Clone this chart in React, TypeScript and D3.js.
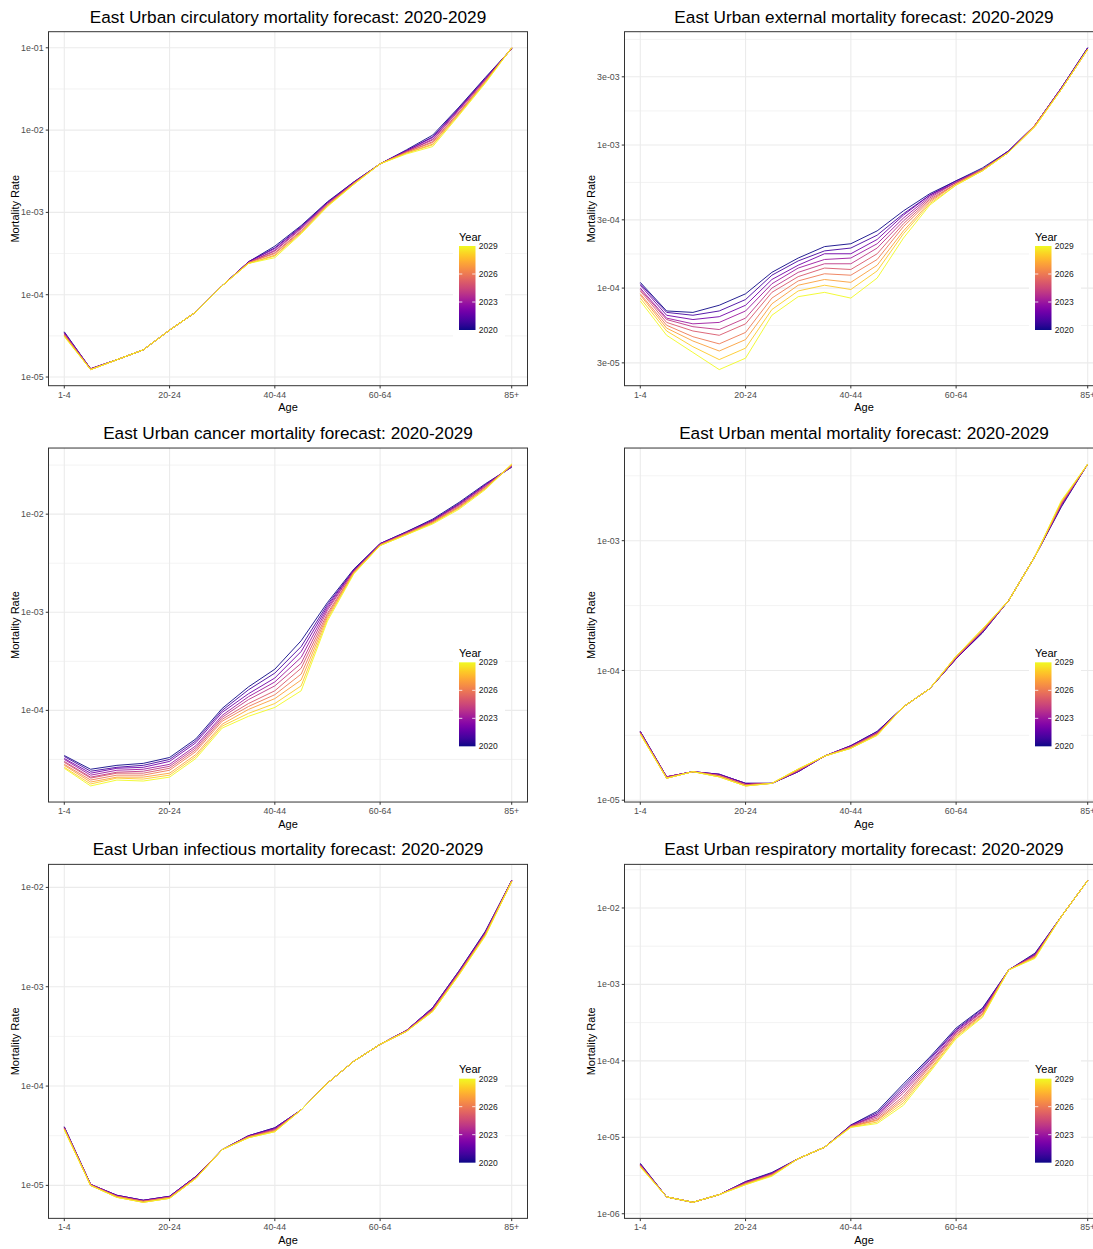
import React from "react";
import * as d3 from "d3";

const ageGroups = ["1-4", "5-9", "10-14", "15-19", "20-24", "25-29", "30-34", "35-39", "40-44",
  "45-49", "50-54", "55-59", "60-64", "65-69", "70-74", "75-79", "80-84", "85+"];
const ageBreaks = ["1-4", "20-24", "40-44", "60-64", "85+"];
const years = [2020, 2021, 2022, 2023, 2024, 2025, 2026, 2027, 2028, 2029];
const legendYears = [2020, 2023, 2026, 2029];

// log10 of the mortality rate: one row per forecast year (2020..2029), one value per age group
const circulatory = [
  [-4.45, -4.90, -4.79, -4.67, -4.43, -4.21, -3.89, -3.60, -3.41, -3.16, -2.87, -2.63, -2.41, -2.24, -2.06, -1.72, -1.36, -1.01],
  [-4.46, -4.90, -4.79, -4.67, -4.43, -4.21, -3.89, -3.60, -3.43, -3.17, -2.88, -2.63, -2.41, -2.25, -2.08, -1.73, -1.37, -1.01],
  [-4.46, -4.90, -4.79, -4.67, -4.43, -4.21, -3.89, -3.60, -3.44, -3.18, -2.88, -2.64, -2.41, -2.25, -2.09, -1.74, -1.38, -1.01],
  [-4.47, -4.90, -4.79, -4.67, -4.43, -4.21, -3.89, -3.61, -3.46, -3.19, -2.89, -2.64, -2.41, -2.26, -2.11, -1.75, -1.38, -1.01],
  [-4.48, -4.90, -4.79, -4.67, -4.43, -4.21, -3.89, -3.61, -3.47, -3.20, -2.90, -2.64, -2.41, -2.26, -2.12, -1.76, -1.39, -1.01],
  [-4.48, -4.91, -4.79, -4.67, -4.43, -4.21, -3.89, -3.61, -3.49, -3.22, -2.90, -2.65, -2.41, -2.27, -2.14, -1.78, -1.40, -1.00],
  [-4.49, -4.91, -4.79, -4.67, -4.43, -4.21, -3.89, -3.61, -3.50, -3.23, -2.91, -2.65, -2.41, -2.27, -2.15, -1.79, -1.41, -1.00],
  [-4.50, -4.91, -4.79, -4.67, -4.43, -4.21, -3.89, -3.62, -3.52, -3.24, -2.92, -2.65, -2.41, -2.28, -2.17, -1.80, -1.41, -1.00],
  [-4.50, -4.91, -4.79, -4.67, -4.43, -4.21, -3.89, -3.62, -3.53, -3.25, -2.92, -2.66, -2.41, -2.28, -2.18, -1.81, -1.42, -1.00],
  [-4.51, -4.91, -4.79, -4.67, -4.43, -4.21, -3.89, -3.62, -3.55, -3.26, -2.93, -2.66, -2.41, -2.29, -2.20, -1.82, -1.43, -1.00],
];

const external = [
  [-3.96, -4.16, -4.17, -4.12, -4.04, -3.89, -3.79, -3.71, -3.69, -3.60, -3.46, -3.34, -3.25, -3.16, -3.04, -2.86, -2.60, -2.32],
  [-3.97, -4.17, -4.19, -4.16, -4.08, -3.91, -3.81, -3.74, -3.72, -3.63, -3.48, -3.35, -3.25, -3.17, -3.04, -2.86, -2.60, -2.32],
  [-3.98, -4.19, -4.22, -4.20, -4.12, -3.94, -3.84, -3.76, -3.76, -3.66, -3.49, -3.35, -3.26, -3.17, -3.04, -2.86, -2.60, -2.32],
  [-4.00, -4.21, -4.25, -4.24, -4.16, -3.97, -3.86, -3.80, -3.79, -3.69, -3.51, -3.36, -3.26, -3.17, -3.05, -2.86, -2.60, -2.33],
  [-4.01, -4.22, -4.27, -4.29, -4.21, -4.00, -3.89, -3.83, -3.83, -3.72, -3.53, -3.37, -3.26, -3.17, -3.05, -2.86, -2.61, -2.33],
  [-4.02, -4.24, -4.30, -4.33, -4.25, -4.03, -3.92, -3.86, -3.87, -3.76, -3.55, -3.38, -3.27, -3.17, -3.05, -2.86, -2.61, -2.33],
  [-4.04, -4.26, -4.34, -4.39, -4.31, -4.07, -3.95, -3.90, -3.91, -3.80, -3.57, -3.39, -3.27, -3.17, -3.05, -2.86, -2.61, -2.33],
  [-4.05, -4.28, -4.37, -4.44, -4.36, -4.11, -3.98, -3.94, -3.96, -3.84, -3.60, -3.40, -3.27, -3.18, -3.05, -2.87, -2.61, -2.33],
  [-4.07, -4.30, -4.41, -4.50, -4.42, -4.15, -4.02, -3.98, -4.01, -3.88, -3.62, -3.41, -3.28, -3.18, -3.05, -2.87, -2.61, -2.33],
  [-4.09, -4.33, -4.45, -4.57, -4.49, -4.19, -4.06, -4.03, -4.07, -3.93, -3.65, -3.42, -3.28, -3.18, -3.05, -2.87, -2.61, -2.33],
];

const cancer = [
  [-4.46, -4.60, -4.56, -4.54, -4.48, -4.29, -3.98, -3.76, -3.58, -3.29, -2.90, -2.56, -2.30, -2.18, -2.05, -1.88, -1.69, -1.52],
  [-4.47, -4.62, -4.58, -4.56, -4.50, -4.31, -4.00, -3.79, -3.62, -3.35, -2.92, -2.57, -2.30, -2.18, -2.06, -1.89, -1.70, -1.52],
  [-4.49, -4.64, -4.59, -4.58, -4.52, -4.33, -4.02, -3.83, -3.67, -3.40, -2.94, -2.57, -2.30, -2.19, -2.06, -1.90, -1.70, -1.51],
  [-4.50, -4.66, -4.61, -4.60, -4.55, -4.36, -4.05, -3.86, -3.71, -3.46, -2.96, -2.58, -2.31, -2.19, -2.07, -1.90, -1.71, -1.51],
  [-4.52, -4.68, -4.63, -4.62, -4.57, -4.38, -4.07, -3.89, -3.75, -3.52, -2.98, -2.58, -2.31, -2.19, -2.07, -1.91, -1.72, -1.51],
  [-4.53, -4.69, -4.64, -4.64, -4.59, -4.40, -4.09, -3.93, -3.80, -3.57, -3.01, -2.59, -2.31, -2.20, -2.08, -1.92, -1.72, -1.50],
  [-4.55, -4.71, -4.66, -4.66, -4.61, -4.42, -4.11, -3.96, -3.84, -3.63, -3.03, -2.59, -2.31, -2.20, -2.08, -1.93, -1.73, -1.50],
  [-4.56, -4.73, -4.68, -4.68, -4.64, -4.45, -4.14, -3.99, -3.88, -3.69, -3.05, -2.60, -2.32, -2.20, -2.09, -1.93, -1.74, -1.50],
  [-4.58, -4.75, -4.69, -4.70, -4.66, -4.47, -4.16, -4.03, -3.93, -3.75, -3.07, -2.60, -2.32, -2.21, -2.09, -1.94, -1.74, -1.49],
  [-4.59, -4.77, -4.71, -4.72, -4.68, -4.49, -4.18, -4.06, -3.97, -3.80, -3.09, -2.61, -2.32, -2.21, -2.10, -1.95, -1.75, -1.49],
];

const mental = [
  [-4.47, -4.82, -4.78, -4.80, -4.87, -4.87, -4.78, -4.66, -4.58, -4.47, -4.28, -4.14, -3.91, -3.71, -3.46, -3.12, -2.74, -2.41],
  [-4.47, -4.82, -4.78, -4.80, -4.87, -4.87, -4.78, -4.66, -4.58, -4.47, -4.28, -4.14, -3.91, -3.71, -3.46, -3.12, -2.73, -2.41],
  [-4.47, -4.82, -4.78, -4.80, -4.87, -4.87, -4.78, -4.66, -4.58, -4.48, -4.28, -4.14, -3.91, -3.70, -3.46, -3.12, -2.73, -2.41],
  [-4.48, -4.82, -4.78, -4.81, -4.88, -4.87, -4.77, -4.66, -4.59, -4.48, -4.28, -4.14, -3.90, -3.70, -3.46, -3.12, -2.72, -2.41],
  [-4.48, -4.82, -4.78, -4.81, -4.88, -4.87, -4.77, -4.66, -4.59, -4.48, -4.28, -4.14, -3.90, -3.70, -3.46, -3.12, -2.72, -2.41],
  [-4.48, -4.83, -4.78, -4.81, -4.88, -4.87, -4.77, -4.66, -4.59, -4.49, -4.28, -4.14, -3.90, -3.69, -3.46, -3.12, -2.71, -2.41],
  [-4.48, -4.83, -4.78, -4.81, -4.88, -4.87, -4.77, -4.66, -4.59, -4.49, -4.28, -4.14, -3.90, -3.69, -3.46, -3.12, -2.71, -2.41],
  [-4.49, -4.83, -4.78, -4.82, -4.89, -4.87, -4.76, -4.66, -4.60, -4.49, -4.28, -4.14, -3.89, -3.69, -3.46, -3.12, -2.70, -2.41],
  [-4.49, -4.83, -4.78, -4.82, -4.89, -4.87, -4.76, -4.66, -4.60, -4.50, -4.28, -4.14, -3.89, -3.68, -3.46, -3.12, -2.70, -2.41],
  [-4.49, -4.83, -4.78, -4.82, -4.89, -4.87, -4.76, -4.66, -4.60, -4.50, -4.28, -4.14, -3.89, -3.68, -3.46, -3.12, -2.69, -2.41],
];

const infectious = [
  [-4.41, -4.99, -5.10, -5.15, -5.11, -4.91, -4.64, -4.50, -4.42, -4.24, -3.97, -3.75, -3.58, -3.44, -3.21, -2.84, -2.44, -1.93],
  [-4.41, -4.99, -5.10, -5.15, -5.11, -4.91, -4.64, -4.50, -4.42, -4.24, -3.97, -3.75, -3.58, -3.44, -3.21, -2.84, -2.45, -1.93],
  [-4.42, -4.99, -5.10, -5.15, -5.11, -4.91, -4.64, -4.50, -4.43, -4.24, -3.97, -3.75, -3.58, -3.44, -3.22, -2.85, -2.45, -1.93],
  [-4.42, -4.99, -5.11, -5.16, -5.12, -4.92, -4.64, -4.51, -4.43, -4.24, -3.97, -3.75, -3.58, -3.44, -3.22, -2.85, -2.46, -1.93],
  [-4.42, -4.99, -5.11, -5.16, -5.12, -4.92, -4.64, -4.51, -4.44, -4.24, -3.97, -3.75, -3.58, -3.44, -3.23, -2.86, -2.46, -1.93],
  [-4.43, -5.00, -5.11, -5.16, -5.12, -4.92, -4.64, -4.51, -4.44, -4.24, -3.97, -3.75, -3.58, -3.45, -3.23, -2.86, -2.47, -1.94],
  [-4.43, -5.00, -5.11, -5.16, -5.12, -4.92, -4.64, -4.51, -4.45, -4.24, -3.97, -3.75, -3.58, -3.45, -3.24, -2.87, -2.47, -1.94],
  [-4.43, -5.00, -5.12, -5.17, -5.13, -4.93, -4.64, -4.52, -4.45, -4.24, -3.97, -3.75, -3.58, -3.45, -3.24, -2.87, -2.48, -1.94],
  [-4.44, -5.00, -5.12, -5.17, -5.13, -4.93, -4.64, -4.52, -4.46, -4.24, -3.97, -3.75, -3.58, -3.45, -3.25, -2.88, -2.48, -1.94],
  [-4.44, -5.00, -5.12, -5.17, -5.13, -4.93, -4.64, -4.52, -4.46, -4.24, -3.97, -3.75, -3.58, -3.45, -3.25, -2.88, -2.49, -1.94],
];

const respiratory = [
  [-5.34, -5.78, -5.85, -5.75, -5.58, -5.46, -5.28, -5.13, -4.84, -4.66, -4.30, -3.95, -3.57, -3.31, -2.81, -2.59, -2.11, -1.64],
  [-5.35, -5.78, -5.85, -5.75, -5.58, -5.47, -5.28, -5.13, -4.84, -4.68, -4.33, -3.97, -3.59, -3.32, -2.81, -2.60, -2.11, -1.64],
  [-5.35, -5.78, -5.85, -5.75, -5.59, -5.47, -5.28, -5.13, -4.85, -4.70, -4.36, -3.99, -3.60, -3.34, -2.81, -2.61, -2.11, -1.64],
  [-5.36, -5.78, -5.85, -5.75, -5.59, -5.48, -5.28, -5.13, -4.85, -4.71, -4.39, -4.02, -3.62, -3.35, -2.81, -2.61, -2.11, -1.64],
  [-5.36, -5.78, -5.85, -5.75, -5.60, -5.48, -5.28, -5.13, -4.85, -4.73, -4.42, -4.04, -3.63, -3.36, -2.81, -2.62, -2.11, -1.64],
  [-5.37, -5.78, -5.85, -5.75, -5.60, -5.49, -5.28, -5.13, -4.86, -4.75, -4.46, -4.06, -3.65, -3.38, -2.81, -2.63, -2.11, -1.64],
  [-5.37, -5.78, -5.85, -5.75, -5.61, -5.49, -5.28, -5.13, -4.86, -4.77, -4.49, -4.08, -3.66, -3.39, -2.81, -2.64, -2.11, -1.64],
  [-5.38, -5.78, -5.85, -5.75, -5.61, -5.50, -5.28, -5.13, -4.86, -4.78, -4.52, -4.11, -3.68, -3.40, -2.81, -2.64, -2.11, -1.64],
  [-5.38, -5.78, -5.85, -5.75, -5.62, -5.50, -5.28, -5.13, -4.87, -4.80, -4.55, -4.13, -3.69, -3.42, -2.81, -2.65, -2.11, -1.64],
  [-5.39, -5.78, -5.85, -5.75, -5.62, -5.51, -5.28, -5.13, -4.87, -4.82, -4.58, -4.15, -3.71, -3.43, -2.81, -2.66, -2.11, -1.64],
];

const circulatoryTicks = ["1e-05", "1e-04", "1e-03", "1e-02", "1e-01"];
const externalTicks = ["3e-05", "1e-04", "3e-04", "1e-03", "3e-03"];
const cancerTicks = ["1e-04", "1e-03", "1e-02"];
const mentalTicks = ["1e-05", "1e-04", "1e-03"];
const infectiousTicks = ["1e-05", "1e-04", "1e-03", "1e-02"];
const respiratoryTicks = ["1e-06", "1e-05", "1e-04", "1e-03", "1e-02"];

const panels = [
  { cause: "circulatory", rows: circulatory, ticks: circulatoryTicks },
  { cause: "external", rows: external, ticks: externalTicks },
  { cause: "cancer", rows: cancer, ticks: cancerTicks },
  { cause: "mental", rows: mental, ticks: mentalTicks },
  { cause: "infectious", rows: infectious, ticks: infectiousTicks },
  { cause: "respiratory", rows: respiratory, ticks: respiratoryTicks },
];

function drawChart(svgRef: React.RefObject<SVGSVGElement>) {
  const W = 1093;
  const H = 1249;
  const cellW = 576;
  const cellH = H / 3;
  const font = "'Liberation Sans', Arial, sans-serif";

  const svg = d3.select(svgRef.current);
  svg.selectAll("*").remove();
  svg.attr("width", W).attr("height", H).style("font-family", font);

  svg.append("rect").attr("width", W).attr("height", H).attr("fill", "white");

  const color = d3.scaleSequential(d3.interpolatePlasma).domain([2020, 2029]);

  const grad = svg.append("defs").append("linearGradient")
    .attr("id", "plasmaBar")
    .attr("x1", 0).attr("x2", 0).attr("y1", 1).attr("y2", 0);
  d3.range(0, 1.0001, 0.05).forEach(t => {
    grad.append("stop").attr("offset", t).attr("stop-color", d3.interpolatePlasma(t));
  });

  panels.forEach((p, idx) => {
    const g = svg.append("g")
      .attr("transform", `translate(${(idx % 2) * cellW},${Math.floor(idx / 2) * cellH})`);

    const left = 48.5, top = 31.7, pw = 479, ph = 354;
    const bottom = top + ph;

    const x = d3.scalePoint<string>().domain(ageGroups).range([left, left + pw]).padding(0.6);

    const all = p.rows.flat();
    const lo = d3.min(all) as number;
    const hi = d3.max(all) as number;
    const pad = (hi - lo) * 0.05;
    const y = d3.scaleLog().domain([10 ** (lo - pad), 10 ** (hi + pad)]).range([bottom, top]);

    // minor breaks halfway between the major ones (in log space), ggplot style
    const lb = p.ticks.map(t => Math.log10(Number(t)));
    const bd = lb[1] - lb[0];
    const ext = [lb[0] - bd, ...lb, lb[lb.length - 1] + bd];
    const minors = d3.pairs(ext).map(([a, b]) => (a + b) / 2)
      .filter(v => v > lo - pad && v < hi + pad);

    // grid
    g.append("g").selectAll("line").data(minors).join("line")
      .attr("x1", left).attr("x2", left + pw)
      .attr("y1", d => y(10 ** d)).attr("y2", d => y(10 ** d))
      .attr("stroke", "#EBEBEB").attr("stroke-width", 0.6);
    g.append("g").selectAll("line").data(p.ticks).join("line")
      .attr("x1", left).attr("x2", left + pw)
      .attr("y1", d => y(Number(d))).attr("y2", d => y(Number(d)))
      .attr("stroke", "#EBEBEB").attr("stroke-width", 1.1);
    g.append("g").selectAll("line").data(ageBreaks).join("line")
      .attr("x1", d => x(d) as number).attr("x2", d => x(d) as number)
      .attr("y1", top).attr("y2", bottom)
      .attr("stroke", "#EBEBEB").attr("stroke-width", 1.1);

    // forecast lines, 2020 first so 2029 ends on top
    const line = d3.line<number>()
      .x((_, i) => x(ageGroups[i]) as number)
      .y(v => y(10 ** v));
    g.append("g").selectAll("path").data(p.rows).join("path")
      .attr("d", d => line(d))
      .attr("fill", "none")
      .attr("stroke", (_, i) => color(years[i]))
      .attr("stroke-width", 0.9)
      .attr("stroke-linejoin", "round");

    // legend
    const barX = left + 410.5, barY = top + 214.3, barW = 16.5, barH = 84;
    const ly = d3.scaleLinear().domain([2020, 2029]).range([barY + barH, barY]);
    g.append("rect")
      .attr("x", barX - 6).attr("y", barY - 19)
      .attr("width", 52).attr("height", barH + 28)
      .attr("fill", "white");
    g.append("text")
      .attr("x", barX).attr("y", barY - 5.5)
      .attr("font-size", 11).attr("fill", "black")
      .text("Year");
    g.append("rect")
      .attr("x", barX).attr("y", barY)
      .attr("width", barW).attr("height", barH)
      .attr("fill", "url(#plasmaBar)");
    legendYears.filter(v => v > 2020 && v < 2029).forEach(v => {
      g.append("line").attr("x1", barX).attr("x2", barX + barW / 5)
        .attr("y1", ly(v)).attr("y2", ly(v)).attr("stroke", "white").attr("stroke-width", 0.8);
      g.append("line").attr("x1", barX + barW).attr("x2", barX + barW * 4 / 5)
        .attr("y1", ly(v)).attr("y2", ly(v)).attr("stroke", "white").attr("stroke-width", 0.8);
    });
    g.append("g").selectAll("text").data(legendYears).join("text")
      .attr("x", barX + barW + 3.3).attr("y", d => ly(d)).attr("dy", "0.35em")
      .attr("font-size", 8.5).attr("fill", "#1A1A1A")
      .text(d => d);

    // panel border
    g.append("rect")
      .attr("x", left).attr("y", top).attr("width", pw).attr("height", ph)
      .attr("fill", "none").attr("stroke", "#333333").attr("stroke-width", 1);

    // y axis
    g.append("g").selectAll("line").data(p.ticks).join("line")
      .attr("x1", left - 2.75).attr("x2", left)
      .attr("y1", d => y(Number(d))).attr("y2", d => y(Number(d)))
      .attr("stroke", "#333333").attr("stroke-width", 1);
    g.append("g").selectAll("text").data(p.ticks).join("text")
      .attr("x", left - 4.9).attr("y", d => y(Number(d))).attr("dy", "0.35em")
      .attr("text-anchor", "end").attr("font-size", 8.8).attr("fill", "#4D4D4D")
      .text(d => d);

    // x axis
    g.append("g").selectAll("line").data(ageBreaks).join("line")
      .attr("x1", d => x(d) as number).attr("x2", d => x(d) as number)
      .attr("y1", bottom).attr("y2", bottom + 2.75)
      .attr("stroke", "#333333").attr("stroke-width", 1);
    g.append("g").selectAll("text").data(ageBreaks).join("text")
      .attr("x", d => x(d) as number).attr("y", bottom + 11.8)
      .attr("text-anchor", "middle").attr("font-size", 8.8).attr("fill", "#4D4D4D")
      .text(d => d);

    // titles
    g.append("text")
      .attr("x", left + pw / 2).attr("y", bottom + 25.5)
      .attr("text-anchor", "middle").attr("font-size", 11).attr("fill", "black")
      .text("Age");
    g.append("text")
      .attr("transform", `translate(19,${top + ph / 2}) rotate(-90)`)
      .attr("text-anchor", "middle").attr("font-size", 11).attr("fill", "black")
      .text("Mortality Rate");
    g.append("text")
      .attr("x", left + pw / 2).attr("y", 22.8)
      .attr("text-anchor", "middle").attr("font-size", 17.2).attr("fill", "black")
      .text(`East Urban ${p.cause} mortality forecast: 2020-2029`);
  });
}

const App = () => {
  const svg = React.useRef<SVGSVGElement>(null);

  React.useEffect(() => {
    drawChart(svg);
  }, [svg]);

  return (
    <div style={{ position: "absolute", left: 0, top: 0, width: 1093, height: 1249, overflow: "hidden" }}>
      <svg ref={svg} style={{ display: "block" }} />
    </div>
  );
};

export default App;
